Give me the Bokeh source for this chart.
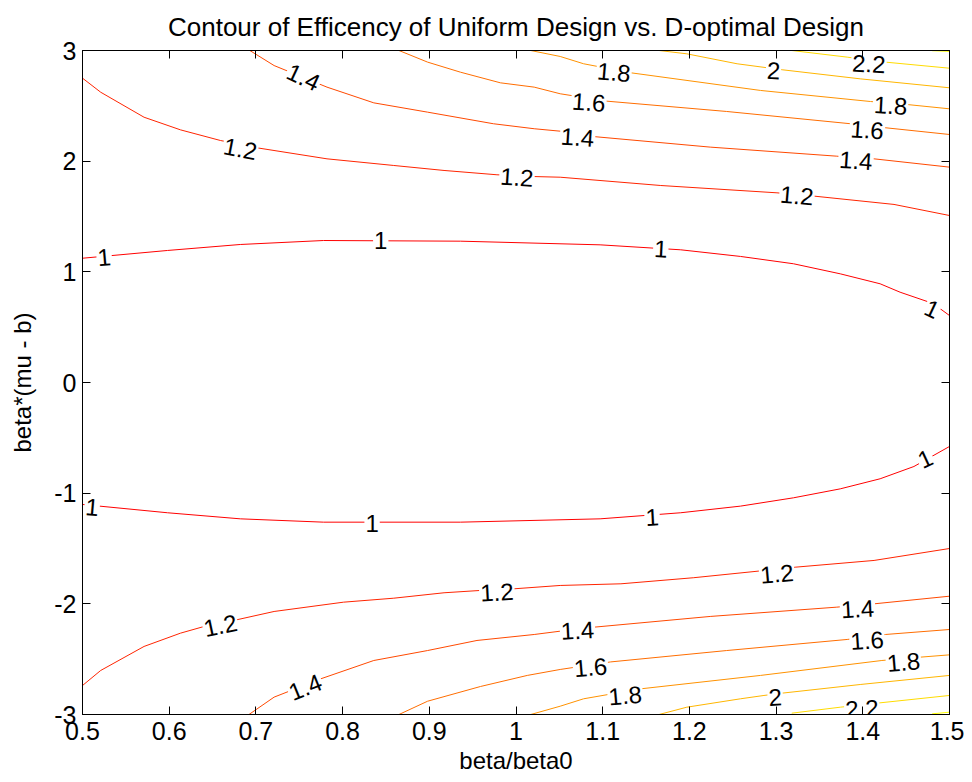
import math
from bokeh.plotting import figure
from bokeh.models import FixedTicker, LinearAxis, ColumnDataSource
from bokeh.core.properties import value
from bokeh.embed import file_html
from bokeh.resources import INLINE

# ---------------- data ----------------
x_ticks = [0.5, 0.6, 0.7, 0.8, 0.9, 1, 1.1, 1.2, 1.3, 1.4, 1.5]
x_tick_labels = ["0.5", "0.6", "0.7", "0.8", "0.9", "1", "1.1", "1.2", "1.3", "1.4", "1.5"]
y_ticks = [-3, -2, -1, 0, 1, 2, 3]
y_tick_labels = ["-3", "-2", "-1", "0", "1", "2", "3"]

levels = [1.0, 1.2, 1.4, 1.6, 1.8, 2.0, 2.2, 2.4]

# level 1
c10_up_x = [0.5, 0.598, 0.682, 0.778, 0.936, 1.097, 1.19, 1.259, 1.320, 1.374, 1.420, 1.443, 1.481, 1.5]
c10_up_y = [1.123, 1.193, 1.247, 1.283, 1.277, 1.244, 1.199, 1.139, 1.073, 0.982, 0.892, 0.816, 0.714, 0.605]
c10_lo_x = [0.5, 0.598, 0.682, 0.778, 0.936, 1.097, 1.19, 1.259, 1.320, 1.374, 1.420, 1.459, 1.5]
c10_lo_y = [-1.102, -1.177, -1.232, -1.262, -1.262, -1.232, -1.177, -1.117, -1.042, -0.961, -0.870, -0.759, -0.578]
# level 1.2
c12_up_x = [0.5, 0.521, 0.571, 0.613, 0.659, 0.701, 0.782, 0.859, 0.917, 0.978, 1.021, 1.051, 1.167, 1.301, 1.344, 1.436, 1.5]
c12_up_y = [2.75, 2.623, 2.397, 2.283, 2.187, 2.121, 2.021, 1.961, 1.916, 1.877, 1.861, 1.855, 1.780, 1.714, 1.684, 1.609, 1.509]
c12_lo_x = [0.5, 0.521, 0.571, 0.613, 0.640, 0.678, 0.721, 0.801, 0.859, 0.917, 0.959, 0.998, 1.051, 1.121, 1.205, 1.280, 1.322, 1.413, 1.5]
c12_lo_y = [-2.738, -2.602, -2.385, -2.265, -2.205, -2.144, -2.069, -1.985, -1.949, -1.900, -1.879, -1.864, -1.834, -1.819, -1.764, -1.704, -1.669, -1.608, -1.5]
# level 1.4
c14_up_x = [0.693, 0.721, 0.782, 0.836, 0.898, 0.974, 1.021, 1.051, 1.090, 1.224, 1.370, 1.413, 1.5]
c14_up_y = [3.0, 2.864, 2.669, 2.527, 2.443, 2.338, 2.293, 2.271, 2.222, 2.127, 2.045, 2.021, 1.946]
c14_lo_x = [0.692, 0.721, 0.775, 0.836, 0.898, 0.955, 1.021, 1.051, 1.090, 1.224, 1.370, 1.413, 1.5]
c14_lo_y = [-3.0, -2.843, -2.677, -2.512, -2.422, -2.331, -2.277, -2.247, -2.211, -2.114, -2.030, -2.0, -1.931]
# level 1.6
c16_up_x = [0.865, 0.898, 0.936, 0.982, 1.021, 1.051, 1.105, 1.243, 1.386, 1.426, 1.5]
c16_up_y = [3.0, 2.895, 2.804, 2.708, 2.669, 2.609, 2.542, 2.449, 2.338, 2.302, 2.241]
c16_lo_x = [0.865, 0.898, 0.959, 1.013, 1.051, 1.109, 1.243, 1.382, 1.426, 1.5]
c16_lo_y = [-3.0, -2.880, -2.747, -2.647, -2.593, -2.525, -2.422, -2.322, -2.277, -2.232]
# level 1.8
c18_up_x = [1.017, 1.051, 1.078, 1.132, 1.282, 1.409, 1.451, 1.5]
c18_up_y = [3.0, 2.946, 2.880, 2.799, 2.639, 2.539, 2.512, 2.473]
c18_lo_x = [1.017, 1.051, 1.078, 1.144, 1.282, 1.422, 1.466, 1.5]
c18_lo_y = [-3.0, -2.925, -2.858, -2.768, -2.647, -2.512, -2.482, -2.461]
# level 2
c20_up_x = [1.165, 1.197, 1.255, 1.307, 1.397, 1.5]
c20_up_y = [3.0, 2.970, 2.880, 2.826, 2.744, 2.663]
c20_lo_x = [1.165, 1.197, 1.259, 1.286, 1.307, 1.397, 1.5]
c20_lo_y = [-3.0, -2.934, -2.858, -2.828, -2.807, -2.729, -2.647]
# level 2.2
c22_up_x = [1.318, 1.382, 1.426, 1.5]
c22_up_y = [3.0, 2.940, 2.895, 2.840]
c22_lo_x = [1.318, 1.374, 1.417, 1.5]
c22_lo_y = [-2.988, -2.934, -2.897, -2.828]
# level 2.4
c24_up_x = [1.480, 1.5]
c24_up_y = [2.998, 2.992]
c24_lo_x = [1.480, 1.5]
c24_lo_y = [-2.994, -2.979]

# contour labels
label_text = ["1", "1", "1", "1", "1", "1", "1", "1",
              "1.2", "1.2", "1.2", "1.2", "1.2", "1.2",
              "1.4", "1.4", "1.4", "1.4", "1.4", "1.4",
              "1.6", "1.6", "1.6", "1.6",
              "1.8", "1.8", "1.8", "1.8",
              "2", "2", "2.2", "2.2"]
label_x = [0.525, 0.844, 1.167, 1.480, 0.511, 0.834, 1.157, 1.472,
           0.682, 1.001, 1.324, 0.659, 0.978, 1.301,
           0.755, 1.071, 1.392, 0.757, 1.071, 1.394,
           1.084, 1.405, 1.086, 1.405,
           1.113, 1.432, 1.126, 1.447,
           1.297, 1.299, 1.407, 1.399]
label_y = [1.132, 1.283, 1.208, 0.666, -1.127, -1.277, -1.217, -0.689,
           2.112, 1.855, 1.690, -2.196, -1.895, -1.729,
           2.759, 2.217, 2.006, -2.753, -2.241, -2.045,
           2.533, 2.283, -2.573, -2.331,
           2.804, 2.503, -2.828, -2.527,
           2.819, -2.843, 2.880, -2.948]
label_angle_deg = [5, 0, -3, -25, -5, 0, 3, 25,
                   -11, -4, -5, 12, 3, 5,
                   -25, -4, -4, 22, 3, 3,
                   -4, -4, 5, 4,
                   -5, -3, 5, 5,
                   -3, 3, -3, 3]

# ---------------- figure ----------------
FONT = "Liberation Sans"

p = figure(frame_width=867, frame_height=664,
           x_range=(0.5, 1.5), y_range=(-3, 3),
           output_backend="svg", toolbar_location=None,
           min_border_left=82, min_border_right=15,
           min_border_top=50, min_border_bottom=68,
           title="Contour of Efficency of Uniform Design vs. D-optimal Design")
p.title.align = "center"
p.title.text_font = FONT
p.title.text_font_size = "26px"
p.title.text_font_style = "normal"
p.title.text_color = "black"
p.title.standoff = 17

p.xgrid.visible = False
p.ygrid.visible = False
p.outline_line_color = "black"
p.outline_line_width = 1
p.background_fill_color = "white"
p.border_fill_color = "white"

# colours from the autumn colormap (red -> yellow)
def autumn(lv):
    g = int(round(255 * (lv - levels[0]) / (levels[-1] - levels[0])))
    return "#ff%02x00" % g

pieces = [
    (1.0, c10_up_x, c10_up_y), (1.0, c10_lo_x, c10_lo_y),
    (1.2, c12_up_x, c12_up_y), (1.2, c12_lo_x, c12_lo_y),
    (1.4, c14_up_x, c14_up_y), (1.4, c14_lo_x, c14_lo_y),
    (1.6, c16_up_x, c16_up_y), (1.6, c16_lo_x, c16_lo_y),
    (1.8, c18_up_x, c18_up_y), (1.8, c18_lo_x, c18_lo_y),
    (2.0, c20_up_x, c20_up_y), (2.0, c20_lo_x, c20_lo_y),
    (2.2, c22_up_x, c22_up_y), (2.2, c22_lo_x, c22_lo_y),
    (2.4, c24_up_x, c24_up_y), (2.4, c24_lo_x, c24_lo_y),
]
for lv, xs, ys in pieces:
    p.line(xs, ys, line_color=autumn(lv), line_width=1)

src = ColumnDataSource(dict(x=label_x, y=label_y, text=label_text,
                            angle=[math.radians(a) for a in label_angle_deg]))
p.text(x="x", y="y", text="text", angle="angle", source=src,
       text_font=value(FONT), text_font_size="24px", text_color="black",
       text_align="center", text_baseline="middle",
       background_fill_color="white", padding=1)

# axes
def style_axis(ax, ticks, show_labels):
    ax.ticker = FixedTicker(ticks=ticks)
    ax.major_tick_in = 8
    ax.major_tick_out = 0
    ax.minor_tick_line_color = None
    ax.axis_line_color = "black"
    ax.major_tick_line_color = "black"
    ax.major_label_text_font = FONT
    if show_labels:
        ax.major_label_text_color = "black"
        ax.major_label_text_font_size = "25px"
    else:
        ax.major_label_text_color = None
        ax.major_label_text_font_size = "1px"
        ax.major_label_standoff = 0

xa = p.xaxis[0]
ya = p.yaxis[0]
style_axis(xa, x_ticks, True)
style_axis(ya, y_ticks, True)
xa.major_label_overrides = {t: s for t, s in zip(x_ticks, x_tick_labels)}
ya.major_label_overrides = {t: s for t, s in zip(y_ticks, y_tick_labels)}
xa.major_label_standoff = 7
ya.major_label_standoff = 6
xa.axis_label = "beta/beta0"
ya.axis_label = "beta*(mu - b)"
for ax in (xa, ya):
    ax.axis_label_text_font = FONT
    ax.axis_label_text_font_size = "24px"
    ax.axis_label_text_font_style = "normal"
    ax.axis_label_text_color = "black"
xa.axis_label_standoff = 4
ya.axis_label_standoff = 15

top = LinearAxis()
right = LinearAxis()
style_axis(top, x_ticks, False)
style_axis(right, y_ticks, False)
p.add_layout(top, "above")
p.add_layout(right, "right")

open("out.html", "w").write(file_html(p, INLINE))
